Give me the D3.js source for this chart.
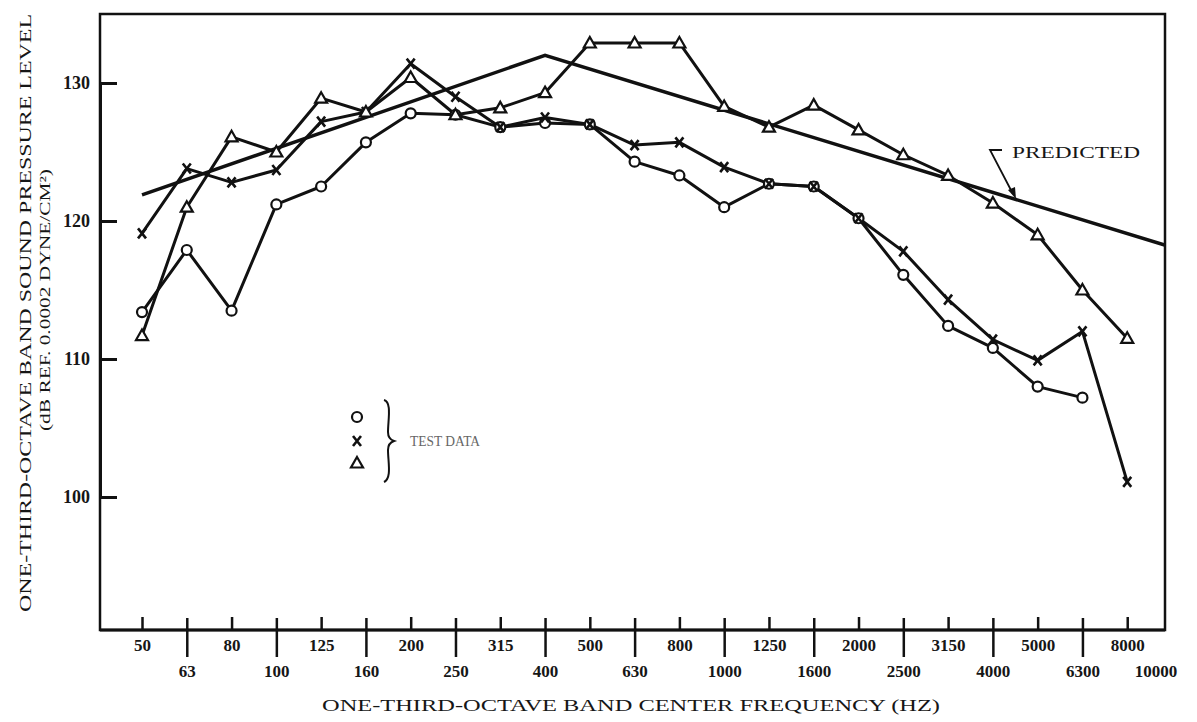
<!DOCTYPE html>
<html>
<head>
<meta charset="utf-8">
<script src="https://cdn.jsdelivr.net/npm/d3@7"></script>
<style>
  body { margin: 0; background: #fff; }
  text { font-family: "Liberation Serif", "DejaVu Serif", serif; fill: #161616; }
</style>
</head>
<body>
<div id="chart"></div>
<script>
// one-third-octave band centre frequencies (Hz)
var freqs = ["50", "63", "80", "100", "125", "160", "200", "250", "315", "400", "500", "630",
  "800", "1000", "1250", "1600", "2000", "2500", "3150", "4000", "5000", "6300", "8000", "10000"];

// test data, dB re 0.0002 dyne/cm2
var circleLevels = [113.4, 117.9, 113.5, 121.2, 122.5, 125.7, 127.8, 127.7, 126.8, 127.1, 127.0,
  124.3, 123.3, 121.0, 122.7, 122.5, 120.2, 116.1, 112.4, 110.8, 108.0, 107.2];
var crossLevels = [119.1, 123.8, 122.8, 123.7, 127.2, 127.9, 131.4, 129.0, 126.8, 127.5, 127.0,
  125.5, 125.7, 123.9, 122.7, 122.5, 120.2, 117.8, 114.3, 111.4, 109.9, 112.0, 101.1];
var triangleLevels = [111.7, 121.0, 126.1, 125.0, 128.9, 127.9, 130.4, 127.7, 128.2, 129.3, 132.9,
  132.9, 132.9, 128.3, 126.8, 128.4, 126.6, 124.8, 123.3, 121.3, 119.0, 115.0, 111.5];

var predictedFreqs = ["50", "400", "10000"];
var predictedLevels = [121.9, 132.0, 118.1];

var yTicks = [100, 110, 120, 130];

var width = 1197, height = 722;
var plotLeft = 100, plotRight = 1165, plotTop = 14, plotBottom = 630;

var svg = d3.select("#chart").append("svg")
  .attr("width", width)
  .attr("height", height);

var xScale = d3.scalePoint()
  .domain(freqs)
  .range([142, 1172]);

var yScale = d3.scaleLinear()
  .domain([100, 130])
  .range([497, 83]);

svg.append("clipPath").attr("id", "plot")
  .append("rect")
  .attr("x", plotLeft).attr("y", plotTop)
  .attr("width", plotRight - plotLeft).attr("height", plotBottom - plotTop);

// frame
svg.append("rect")
  .attr("x", plotLeft).attr("y", plotTop)
  .attr("width", plotRight - plotLeft).attr("height", plotBottom - plotTop)
  .attr("fill", "none")
  .attr("stroke", "#111")
  .attr("stroke-width", 2.5);

// y axis
var yAxis = d3.axisLeft(yScale).tickValues(yTicks).tickSize(0).tickPadding(10);
var gy = svg.append("g").attr("transform", `translate(${plotLeft},0)`).call(yAxis);
gy.select(".domain").attr("stroke", "#111").attr("stroke-width", 3);
gy.selectAll(".tick line").attr("x2", 17).attr("stroke", "#111").attr("stroke-width", 3);
gy.selectAll(".tick text")
  .attr("font-size", 18)
  .attr("font-weight", "bold")
  .attr("font-family", "Liberation Serif")
  .attr("fill", "#161616");

// x axis: short ticks for upper row, long ticks for lower row
var xAxis = d3.axisBottom(xScale).tickValues(freqs.slice(0, 23)).tickSize(0).tickPadding(0);
var gx = svg.append("g").attr("transform", `translate(0,${plotBottom})`).call(xAxis);
gx.select(".domain").remove();
svg.append("line")
  .attr("x1", plotLeft).attr("x2", plotRight)
  .attr("y1", plotBottom).attr("y2", plotBottom)
  .attr("stroke", "#111").attr("stroke-width", 3);
gx.selectAll(".tick line")
  .attr("stroke", "#111")
  .attr("stroke-width", 2.5)
  .attr("y1", (d, i) => i % 2 == 0 ? -13 : -12)
  .attr("y2", (d, i) => i % 2 == 0 ? 0 : 27);
gx.selectAll(".tick text")
  .attr("font-size", 17)
  .attr("font-weight", "bold")
  .attr("font-family", "Liberation Serif")
  .attr("fill", "#161616")
  .attr("dy", null)
  .attr("y", (d, i) => i % 2 == 0 ? 21 : 47);
// last label sits under the right corner, no tick of its own
svg.append("text")
  .attr("x", xScale("10000") - 16)
  .attr("y", plotBottom + 47)
  .attr("text-anchor", "middle")
  .attr("font-size", 17)
  .attr("font-weight", "bold")
  .text("10000");

// axis titles
svg.append("text")
  .attr("x", 631).attr("y", 711)
  .attr("text-anchor", "middle")
  .attr("font-size", 17)
  .attr("textLength", 618)
  .attr("lengthAdjust", "spacingAndGlyphs")
  .text("ONE-THIRD-OCTAVE BAND CENTER FREQUENCY (HZ)");

svg.append("text")
  .attr("transform", "translate(31,313) rotate(-90)")
  .attr("text-anchor", "middle")
  .attr("font-size", 17)
  .attr("textLength", 598)
  .attr("lengthAdjust", "spacingAndGlyphs")
  .text("ONE-THIRD-OCTAVE BAND SOUND PRESSURE LEVEL");

svg.append("text")
  .attr("transform", "translate(50,300) rotate(-90)")
  .attr("text-anchor", "middle")
  .attr("font-size", 15)
  .attr("textLength", 262)
  .attr("lengthAdjust", "spacingAndGlyphs")
  .text("(dB REF. 0.0002 DYNE/CM²)");

// lines
var line = d3.line()
  .x(d => xScale(d.f))
  .y(d => yScale(d.v));

var series = [
  { name: "circle", data: circleLevels.map((v, i) => ({ f: freqs[i], v: v })) },
  { name: "cross", data: crossLevels.map((v, i) => ({ f: freqs[i], v: v })) },
  { name: "triangle", data: triangleLevels.map((v, i) => ({ f: freqs[i], v: v })) }
];

var predicted = predictedLevels.map((v, i) => ({ f: predictedFreqs[i], v: v }));

var plot = svg.append("g").attr("clip-path", "url(#plot)");

plot.append("path")
  .datum(predicted)
  .attr("d", line)
  .attr("fill", "none")
  .attr("stroke", "#111")
  .attr("stroke-width", 3.5);

plot.selectAll(".series")
  .data(series)
  .enter()
  .append("path")
  .attr("class", "series")
  .attr("d", d => line(d.data))
  .attr("fill", "none")
  .attr("stroke", "#111")
  .attr("stroke-width", 3)
  .attr("stroke-linejoin", "round");

var triPath = "M0,-6L6,4.5L-6,4.5Z";
var crossPath = "M-4,-5L4,5M-4,5L4,-5";

function drawMarker(g, kind) {
  if (kind == "circle") {
    g.append("circle").attr("r", 5).attr("fill", "#fff").attr("stroke", "#111").attr("stroke-width", 2.2);
  } else if (kind == "triangle") {
    g.append("path").attr("d", triPath).attr("fill", "#fff").attr("stroke", "#111").attr("stroke-width", 2.2);
  } else {
    g.append("path").attr("d", crossPath).attr("fill", "none").attr("stroke", "#111").attr("stroke-width", 2.6);
  }
}

series.forEach(function (s) {
  plot.selectAll(".m-" + s.name)
    .data(s.data)
    .enter()
    .append("g")
    .attr("class", "m-" + s.name)
    .attr("transform", d => `translate(${xScale(d.f)},${yScale(d.v)})`)
    .each(function () { drawMarker(d3.select(this), s.name); });
});

// predicted label and pointer
svg.append("text")
  .attr("x", 1012).attr("y", 158)
  .attr("font-size", 16)
  .attr("textLength", 128)
  .attr("lengthAdjust", "spacingAndGlyphs")
  .text("PREDICTED");
svg.append("path")
  .attr("d", "M1002,150L990,150L1013,194")
  .attr("fill", "none")
  .attr("stroke", "#111")
  .attr("stroke-width", 1.8);
svg.append("path")
  .attr("d", "M1016,199L1008,190L1015,187Z")
  .attr("fill", "#111");

// legend
var legendKinds = ["circle", "cross", "triangle"];
var legendY = [417, 441, 463];
legendKinds.forEach(function (k, i) {
  var g = svg.append("g").attr("transform", `translate(357,${legendY[i]})`);
  drawMarker(g, k);
});
svg.append("path")
  .attr("d", "M384,400C392,402 388,420 388,432C388,437 391,440 394,441C391,442 388,445 388,450C388,462 392,478 384,482")
  .attr("fill", "none")
  .attr("stroke", "#111")
  .attr("stroke-width", 2);
svg.append("text")
  .attr("x", 410).attr("y", 446)
  .attr("font-size", 15)
  .style("fill", "#666")
  .attr("textLength", 70)
  .attr("lengthAdjust", "spacingAndGlyphs")
  .text("TEST DATA");
</script>
</body>
</html>
